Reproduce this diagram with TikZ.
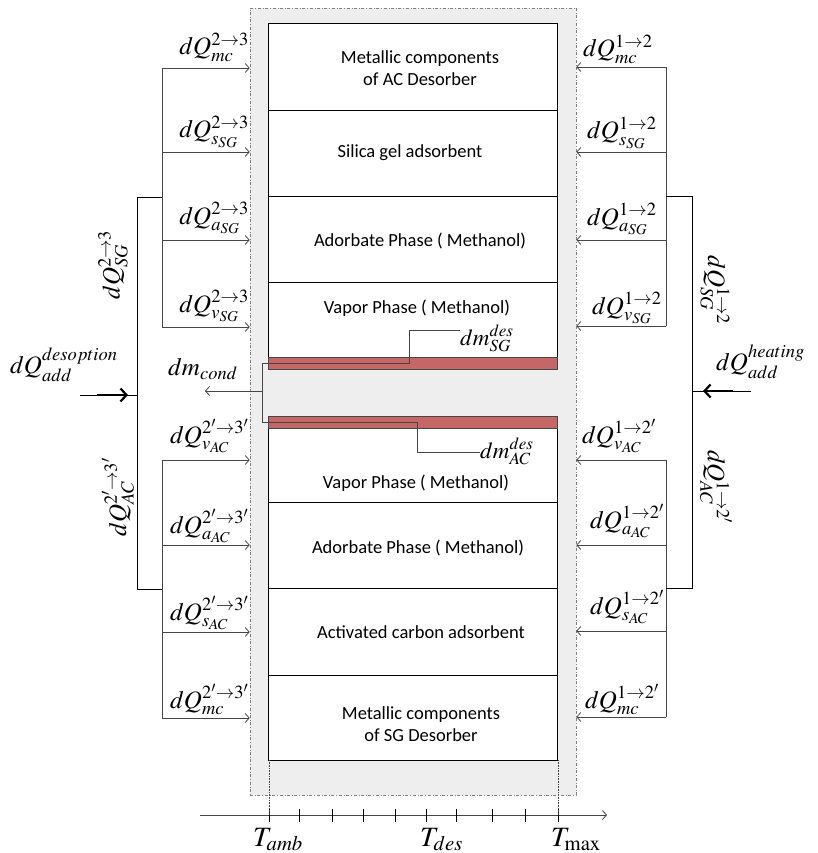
\documentclass[tikz,border=0pt]{standalone}
\usepackage{mathptmx}
\usepackage[no-math]{fontspec}
\newfontfamily\boxfont{Carlito}
\usetikzlibrary{arrows.meta}
\definecolor{bandred}{RGB}{197,103,103}
\definecolor{shade}{RGB}{238,238,238}
\definecolor{ln}{RGB}{70,70,70}
\tikzset{
 flow/.style={draw=ln, line width=0.8pt, -{Straight Barb[length=4pt,width=9pt]}},
 wire/.style={draw=ln, line width=0.8pt},
 brk/.style={draw=black, line width=0.8pt},
 bigflow/.style={draw=black, line width=2.2pt, -{Straight Barb[length=6pt,width=13pt]}},
 lab/.style={inner sep=0pt, font=\fontsize{25}{27}\selectfont},
 tlab/.style={inner sep=0pt, font=\fontsize{28}{30}\selectfont},
 mlab/.style={inner sep=0pt, font=\fontsize{23}{25}\selectfont},
 btxt/.style={inner sep=0pt, font=\boxfont\fontsize{18.5}{21.7}\selectfont, align=center},
 cell/.style={draw=black, fill=white, line width=0.8pt, minimum width=289pt, inner sep=0pt},
 band/.style={draw=ln, fill=bandred, line width=0.6pt, minimum width=289pt, minimum height=12pt, inner sep=0pt},
}
\begin{document}
\begin{tikzpicture}[x=1pt,y=-1pt]
\useasboundingbox (0,0) rectangle (817,853);
% outer shaded casing
\node[draw=gray, dash dot, fill=shade, minimum width=326pt, minimum height=787pt, inner sep=0pt, line width=0.6pt] (outer) at (413,401.5) {};
% cells
\node[cell, minimum height=87pt] (c1) at (412.5,66.5) {};
\node[cell, minimum height=86pt] (c2) at (412.5,153) {};
\node[cell, minimum height=86pt] (c3) at (412.5,239) {};
\node[cell, minimum height=87pt] (c4) at (412.5,325.5) {};
\node[cell, minimum height=86pt] (c5) at (412.5,459) {};
\node[cell, minimum height=86pt] (c6) at (412.5,545) {};
\node[cell, minimum height=87pt] (c7) at (412.5,631.5) {};
\node[cell, minimum height=85pt] (c8) at (412.5,717.5) {};
\node[band] (b1) at (412.5,363) {};
\node[band] (b2) at (412.5,422) {};
% cell texts
\node[btxt] (t1) at (420,68) {Metallic components\\of AC Desorber};
\node[btxt, anchor=base] (t2) at (410,158) {Silica gel adsorbent};
\node[btxt, anchor=base] (t3) at (420,246) {Adorbate Phase ( Methanol)};
\node[btxt, anchor=base] (t4) at (417,313) {Vapor Phase ( Methanol)};
\node[btxt, anchor=base] (t5) at (416,488) {Vapor Phase ( Methanol)};
\node[btxt, anchor=base] (t6) at (418,553) {Adorbate Phase ( Methanol)};
\node[btxt, anchor=base] (t7) at (421,638) {Activated carbon adsorbent};
\node[btxt] (t8) at (421,724) {Metallic components\\of SG Desorber};
% left side heat flows
\coordinate (la1) at (162,68);
\coordinate (la2) at (162,152);
\coordinate (la3) at (162,240);
\coordinate (la4) at (162,327);
\coordinate (la5) at (162,460);
\coordinate (la6) at (162,545);
\coordinate (la7) at (162,632);
\coordinate (la8) at (162,718);
\draw[wire] (la1) -- (la4);
\draw[wire] (la5) -- (la8);
\foreach \n in {1,...,8} {\draw[flow] (la\n) -- (la\n -| outer.west);}
\coordinate (lk1) at (162,197);
\coordinate (lk2) at (162,589);
\draw[brk] (lk1) -- (137,197) -- (137,589) -- (lk2);
% right side heat flows
\coordinate (ra1) at (666,67);
\coordinate (ra2) at (666,152);
\coordinate (ra3) at (666,240);
\coordinate (ra4) at (666,326);
\coordinate (ra5) at (666,460);
\coordinate (ra6) at (666,545);
\coordinate (ra7) at (666,631);
\coordinate (ra8) at (666,717);
\draw[wire] (ra1) -- (ra4);
\draw[wire] (ra5) -- (ra8);
\foreach \n in {1,...,8} {\draw[flow] (ra\n) -- (ra\n -| outer.east);}
\coordinate (rk1) at (666,196);
\coordinate (rk2) at (666,588);
\draw[brk] (rk1) -- (692,196) -- (692,588) -- (rk2);
% added heat
\coordinate (inL0) at (80,395);
\coordinate (inL1) at (137,395);
\draw[brk] (inL0) -- (inL1);
\draw[bigflow] (97,395) -- (128,395);
\coordinate (inR0) at (751,391);
\coordinate (inR1) at (692,391);
\draw[brk] (inR0) -- (inR1);
\draw[bigflow] (733,391) -- (703,391);
% left labels
\node[lab, anchor=base east] (l1) at (249,55) {$dQ_{mc}^{2\to3}$};
\node[lab, anchor=base east] (l2) at (249,138) {$dQ_{s_{SG}}^{2\to3}$};
\node[lab, anchor=base east] (l3) at (249,224) {$dQ_{a_{SG}}^{2\to3}$};
\node[lab, anchor=base east] (l4) at (249,312) {$dQ_{v_{SG}}^{2\to3}$};
\node[lab, anchor=base east] (l5) at (249,443) {$dQ_{v_{AC}}^{2'\to3'}$};
\node[lab, anchor=base east] (l6) at (249,533) {$dQ_{a_{AC}}^{2'\to3'}$};
\node[lab, anchor=base east] (l7) at (249,620) {$dQ_{s_{AC}}^{2'\to3'}$};
\node[lab, anchor=base east] (l8) at (249,708) {$dQ_{mc}^{2'\to3'}$};
% right labels
\node[lab, anchor=base west] (r1) at (583,57) {$dQ_{mc}^{1\to2}$};
\node[lab, anchor=base west] (r2) at (587,139) {$dQ_{s_{SG}}^{1\to2}$};
\node[lab, anchor=base west] (r3) at (587,225) {$dQ_{a_{SG}}^{1\to2}$};
\node[lab, anchor=base west] (r4) at (592,314) {$dQ_{v_{SG}}^{1\to2}$};
\node[lab, anchor=base west] (r5) at (582,443) {$dQ_{v_{AC}}^{1\to2'}$};
\node[lab, anchor=base west] (r6) at (590,528) {$dQ_{a_{AC}}^{1\to2'}$};
\node[lab, anchor=base west] (r7) at (590,614) {$dQ_{s_{AC}}^{1\to2'}$};
\node[lab, anchor=base west] (r8) at (585,708) {$dQ_{mc}^{1\to2'}$};
% rotated group labels
\node[lab, rotate=90] (gl1) at (113,265) {$dQ_{SG}^{2\to3}$};
\node[lab, rotate=90] (gl2) at (118,497) {$dQ_{AC}^{2'\to3'}$};
\node[lab, rotate=-90] (gr1) at (715,290) {$dQ_{SG}^{1\to2}$};
\node[lab, rotate=-90] (gr2) at (716,487) {$dQ_{AC}^{1\to2'}$};
% added heat labels
\node[lab, anchor=base west] (qdes) at (10,373) {$dQ_{add}^{desoption}$};
\node[lab, anchor=base west] (qheat) at (716,370) {$dQ_{add}^{heating}$};
% mass flows
\node[lab, anchor=base west] (mc) at (168,375) {$dm_{cond}$};
\node[mlab, anchor=base west] (msg) at (460,345) {$dm_{SG}^{des}$};
\node[mlab, anchor=base west] (mac) at (480,458) {$dm_{AC}^{des}$};
\coordinate (jn) at (262,391);
\coordinate (mcend) at (205,391);
\draw[wire] (msg.west |- 0,330) -- (409,330) -- (409,363) -- (262,363) -- (262,422) -- (417,422) -- (417,452) -- (mac.west |- 0,452);
\draw[flow] (jn) -- (mcend);
% temperature axis
\coordinate (ax0) at (200,815);
\coordinate (ax1) at (607,815);
\draw[flow] (ax0) -- (ax1);
\foreach \x in {269,299,332,363,395,426,456,492,525,558} {\draw[draw=black, line width=0.8pt] (\x,809) -- (\x,822);}
\draw[draw=ln, densely dotted, line width=0.6pt] (269,760) -- (269,815);
\draw[draw=ln, densely dotted, line width=0.6pt] (558,760) -- (558,815);
\node[tlab, anchor=base west] (tamb) at (253,846) {$T_{amb}$};
\node[tlab, anchor=base west] (tdes) at (420,846) {$T_{des}$};
\node[tlab, anchor=base west] (tmax) at (551,846) {$T_{\max}$};
\end{tikzpicture}
\end{document}
